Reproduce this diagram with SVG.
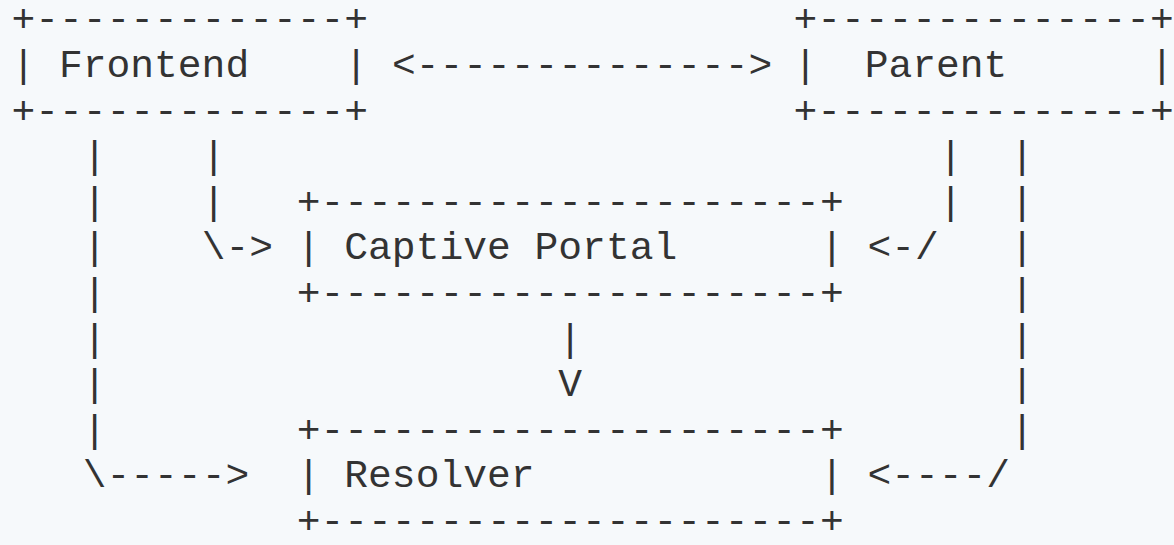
<svg xmlns="http://www.w3.org/2000/svg" width="1174" height="545" viewBox="0 0 1174 545" xml:space="preserve">
<style>
text { font-family: "Liberation Mono", "Courier New", monospace; font-size: 39.63px; fill: #333333; white-space: pre; }
</style>
<rect x="0" y="0" width="1174" height="545" fill="#f6f9fb"/>
<g id="node-frontend">
<text x="11.4" y="31.4">+-------------+</text>
<text x="11.4" y="77">| Frontend    |</text>
<text x="11.4" y="122.6">+-------------+</text>
</g>
<g id="node-parent">
<text x="793.4" y="31.4">+--------------+</text>
<text x="793.4" y="77">|  Parent      |</text>
<text x="793.4" y="122.6">+--------------+</text>
</g>
<g id="node-captive-portal">
<text x="296.76" y="213.8">+---------------------+</text>
<text x="296.76" y="259.4">| Captive Portal      |</text>
<text x="296.76" y="305">+---------------------+</text>
</g>
<g id="node-resolver">
<text x="296.76" y="441.8">+---------------------+</text>
<text x="296.76" y="487.4">| Resolver            |</text>
<text x="296.76" y="533">+---------------------+</text>
</g>
<g id="connectors">
<text x="391.88" y="77">&lt;--------------&gt;</text>
<text x="82.74" y="168.2">|</text>
<text x="82.74" y="213.8">|</text>
<text x="82.74" y="259.4">|</text>
<text x="82.74" y="305">|</text>
<text x="82.74" y="350.6">|</text>
<text x="82.74" y="396.2">|</text>
<text x="82.74" y="441.8">|</text>
<text x="82.74" y="487.4">\-----&gt;</text>
<text x="201.64" y="168.2">|</text>
<text x="201.64" y="213.8">|</text>
<text x="201.64" y="259.4">\-&gt;</text>
<text x="938.82" y="168.2">|</text>
<text x="938.82" y="213.8">|</text>
<text x="867.48" y="259.4">&lt;-/</text>
<text x="1010.16" y="168.2">|</text>
<text x="1010.16" y="213.8">|</text>
<text x="1010.16" y="259.4">|</text>
<text x="1010.16" y="305">|</text>
<text x="1010.16" y="350.6">|</text>
<text x="1010.16" y="396.2">|</text>
<text x="1010.16" y="441.8">|</text>
<text x="867.48" y="487.4">&lt;----/</text>
<text x="558.34" y="350.6">|</text>
<text x="558.34" y="396.2">V</text>
</g>
</svg>
